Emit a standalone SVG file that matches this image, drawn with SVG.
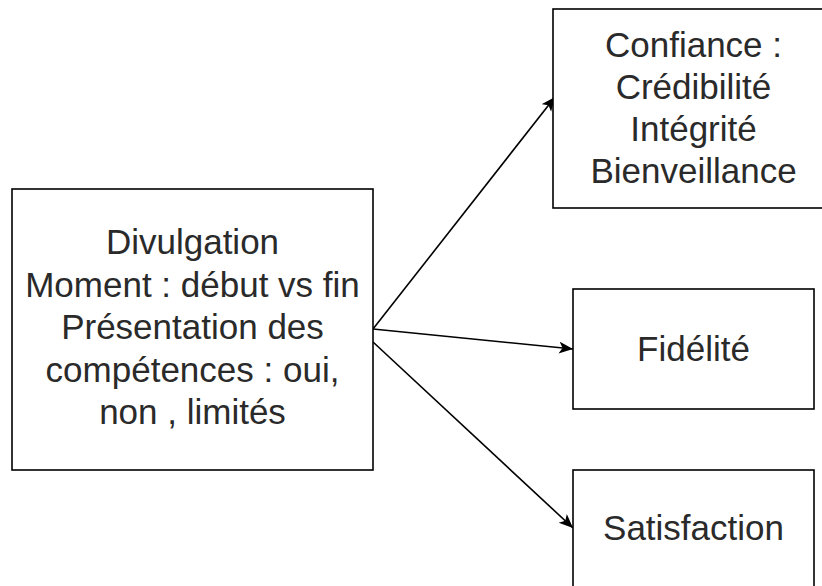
<svg xmlns="http://www.w3.org/2000/svg" width="822" height="586" viewBox="0 0 822 586">
<style>
.box{fill:#fff;stroke:#000;stroke-width:1.6}
.t{font-family:"Liberation Sans",Arial,sans-serif;font-size:35px;fill:#2a2a2a;text-anchor:middle}
.c{fill:none;stroke:#000;stroke-width:1.6}
</style>
<defs>
<marker id="ah" markerUnits="userSpaceOnUse" markerWidth="16" markerHeight="14" refX="14" refY="6" orient="auto">
<path d="M0,0 L14,6 L0,12 L3.5,6 z" fill="#000"/>
</marker>
</defs>
<rect width="822" height="586" fill="#fff"/>
<g id="connectors">
<line class="c" x1="373" y1="329" x2="555" y2="97" marker-end="url(#ah)"/>
<line class="c" x1="373" y1="329" x2="573" y2="349" marker-end="url(#ah)"/>
<line class="c" x1="373" y1="342" x2="573" y2="528" marker-end="url(#ah)"/>
</g>
<g id="divulgation">
<rect class="box" x="12" y="189" width="361" height="281"/>
<text class="t" x="192.5" y="254">Divulgation</text>
<text class="t" x="192.5" y="297">Moment : début vs fin</text>
<text class="t" x="192.5" y="339">Présentation des</text>
<text class="t" x="192.5" y="382">compétences : oui,</text>
<text class="t" x="192.5" y="424">non , limités</text>
</g>
<g id="confiance">
<rect class="box" x="553" y="9" width="281" height="199"/>
<text class="t" x="693.5" y="57">Confiance :</text>
<text class="t" x="693.5" y="99">Crédibilité</text>
<text class="t" x="693.5" y="141">Intégrité</text>
<text class="t" x="693.5" y="183">Bienveillance</text>
</g>
<g id="fidelite">
<rect class="box" x="573" y="289" width="241" height="120"/>
<text class="t" x="693.5" y="361">Fidélité</text>
</g>
<g id="satisfaction">
<rect class="box" x="573" y="470" width="241" height="120"/>
<text class="t" x="693.5" y="540">Satisfaction</text>
</g>
</svg>
